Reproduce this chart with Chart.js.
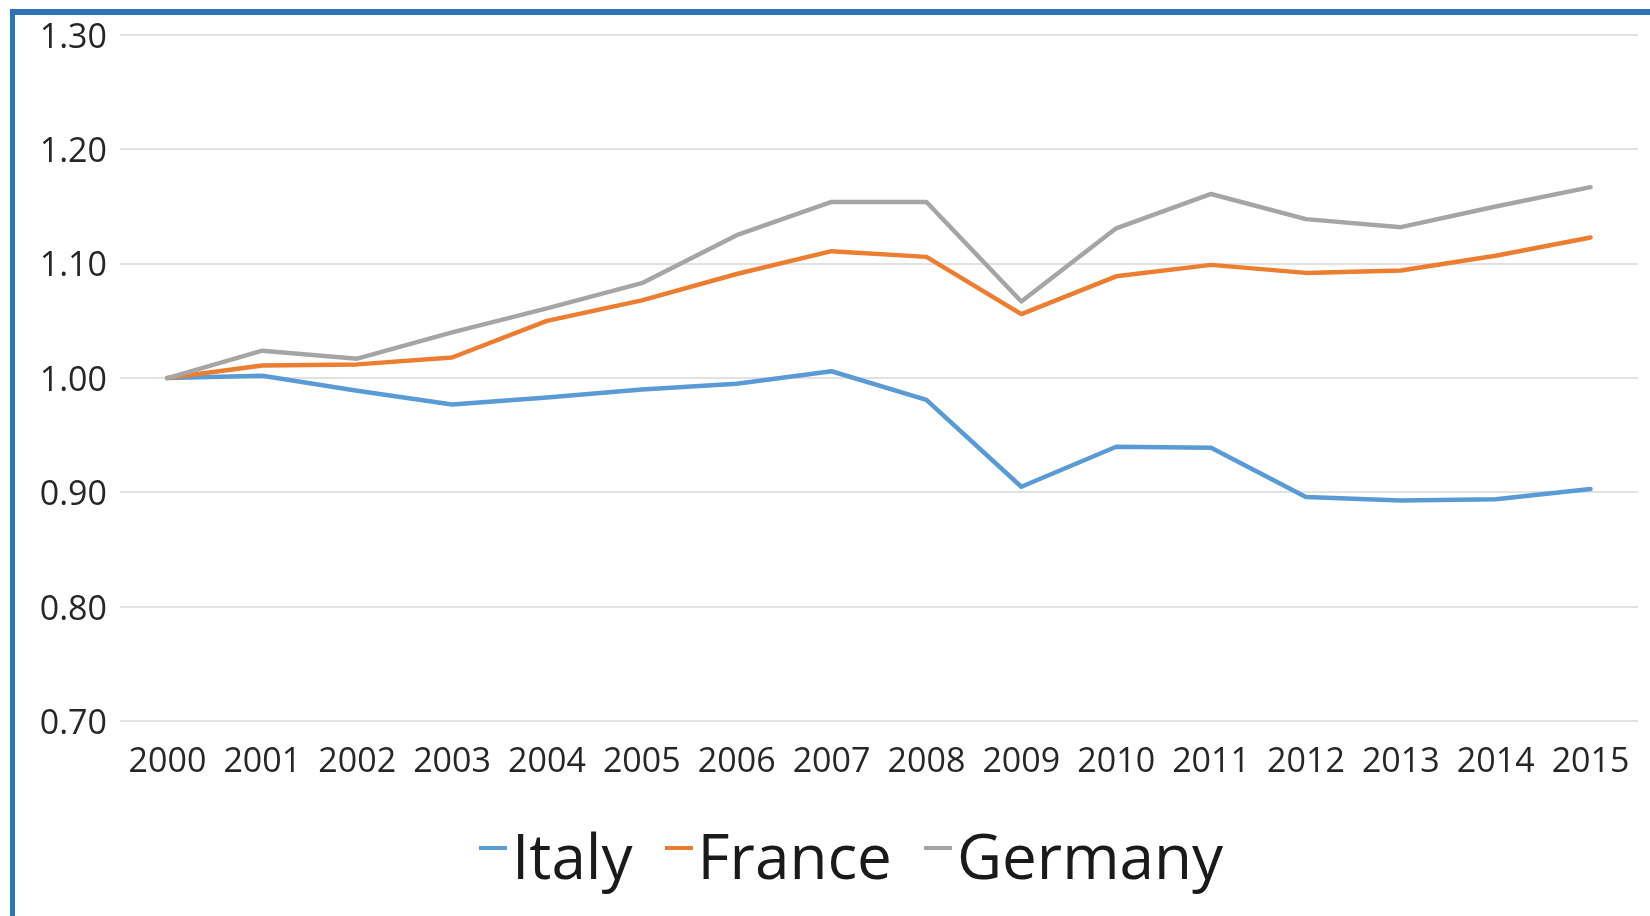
<!DOCTYPE html>
<html>
<head>
<meta charset="utf-8">
<title>Italy, France, Germany 2000–2015</title>
<script src="https://cdn.jsdelivr.net/npm/chart.js@4.4.1/dist/chart.umd.min.js"></script>
<style>
  html, body { margin: 0; padding: 0; background: #fff; }
  #wrap { position: relative; width: 1650px; height: 916px; overflow: hidden; background: #fff; }
  #chart { position: absolute; left: 0; top: 0; }
  #frame {
    position: absolute; left: 10px; top: 9px; right: -20px; bottom: -20px;
    border-top: 6px solid #2e74b5; border-left: 5px solid #2e74b5;
    pointer-events: none;
  }
  #legend {
    position: absolute; left: 479px; top: 824px;
    display: flex; align-items: center;
    font-family: "Open Sans", sans-serif; font-size: 62px; line-height: 62px; color: #1a1a1a;
    white-space: nowrap;
  }
  #legend .item { display: flex; align-items: center; margin-right: 32px; }
  #legend .mark { display: inline-block; width: 28px; height: 4px; margin-right: 5px; position: relative; top: -7px; }
</style>
</head>
<body>
<div id="wrap">
  <canvas id="chart" width="1650" height="916"></canvas>
  <div id="legend"></div>
  <div id="frame"></div>
</div>
<script>
// years on the category axis
const years = ['2000', '2001', '2002', '2003', '2004', '2005', '2006', '2007',
  '2008', '2009', '2010', '2011', '2012', '2013', '2014', '2015'];

// index values, 2000 = 1.00
const italy = [1.000, 1.002, 0.989, 0.977, 0.983, 0.990, 0.995, 1.006,
  0.981, 0.905, 0.940, 0.939, 0.896, 0.893, 0.894, 0.903];
const france = [1.000, 1.011, 1.012, 1.018, 1.050, 1.068, 1.091, 1.111,
  1.106, 1.056, 1.089, 1.099, 1.092, 1.094, 1.107, 1.123];
const germany = [1.000, 1.024, 1.017, 1.040, 1.061, 1.083, 1.125, 1.154,
  1.154, 1.067, 1.131, 1.161, 1.139, 1.132, 1.150, 1.167];

const seriesNames = ['Italy', 'France', 'Germany'];
const seriesColors = ['#5b9bd5', '#ed7d31', '#a5a5a5'];

// y axis range
const yMin = 0.70;
const yMax = 1.30;
const yStep = 0.10;

const tickFont = { family: '"Open Sans", sans-serif', size: 34 };

const makeSet = (i, values) => ({
  label: seriesNames[i],
  data: values,
  borderColor: seriesColors[i],
  backgroundColor: seriesColors[i],
  borderWidth: 4.5,
  pointRadius: 0,
  tension: 0,
  borderJoinStyle: 'round',
  borderCapStyle: 'round',
  order: 2 - i,
});

const chart = new Chart(document.getElementById('chart'), {
  type: 'line',
  data: {
    labels: years,
    datasets: [makeSet(0, italy), makeSet(1, france), makeSet(2, germany)],
  },
  options: {
    responsive: false,
    animation: false,
    devicePixelRatio: 1,
    layout: { padding: { top: 35, right: 12, left: 0, bottom: 120 } },
    plugins: {
      legend: { display: false },
      tooltip: { enabled: false },
    },
    scales: {
      x: {
        offset: true,
        grid: { display: false },
        border: { display: false },
        ticks: {
          font: tickFont,
          color: '#262626',
          padding: 13,
          maxRotation: 0,
          autoSkip: false,
        },
      },
      y: {
        min: yMin,
        max: yMax,
        border: { display: false },
        grid: { color: '#e2e2e2', lineWidth: 2, drawTicks: false },
        ticks: {
          stepSize: yStep,
          font: tickFont,
          color: '#262626',
          padding: 13,
          labelOffset: 3,
          callback: (v) => Number(v).toFixed(2),
        },
        afterFit: (scale) => { scale.width = 120; },
      },
    },
  },
});

// legend built from the chart's datasets
const legendEl = document.getElementById('legend');
chart.data.datasets.forEach((ds) => {
  const item = document.createElement('span');
  item.className = 'item';
  const mark = document.createElement('span');
  mark.className = 'mark';
  mark.style.background = ds.borderColor;
  const text = document.createElement('span');
  text.textContent = ds.label;
  item.appendChild(mark);
  item.appendChild(text);
  legendEl.appendChild(item);
});
</script>
</body>
</html>
